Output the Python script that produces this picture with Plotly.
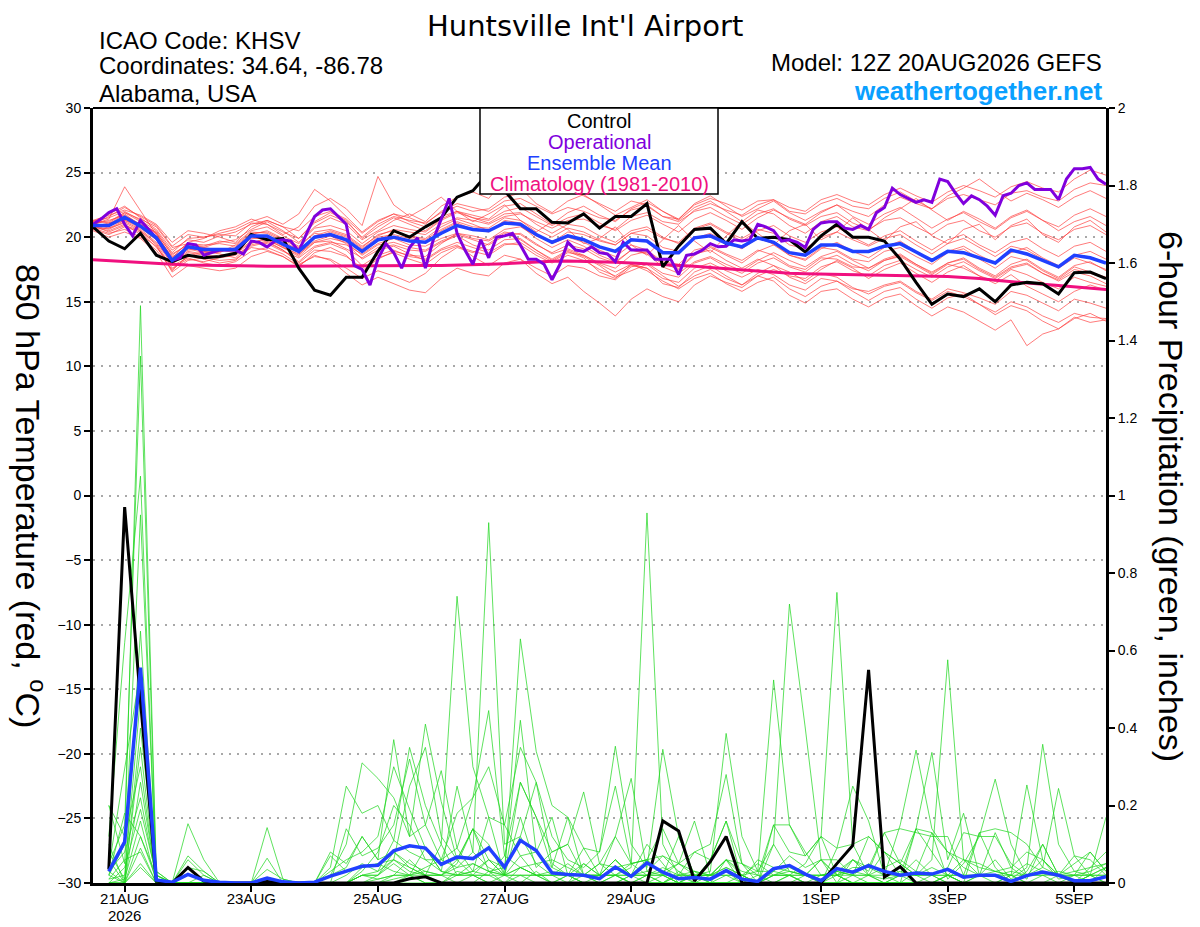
import pandas as pd
import plotly.graph_objects as go

# time axis: GEFS 12Z 20AUG2026 run, 6-hourly out to 384h (operational is 3-hourly)
times = pd.date_range("2026-08-20 12:00", periods=65, freq="6h")
times_op = pd.date_range("2026-08-20 12:00", periods=129, freq="3h")
precip_times = times[1:]

tick_dates = ["2026-08-21", "2026-08-23", "2026-08-25", "2026-08-27", "2026-08-29",
              "2026-09-01", "2026-09-03", "2026-09-05"]
tick_labels = ["21AUG", "23AUG", "25AUG", "27AUG", "29AUG", "1SEP", "3SEP", "5SEP"]

temp_ticks = [30, 25, 20, 15, 10, 5, 0, -5, -10, -15, -20, -25, -30]
precip_ticks = [0, 0.2, 0.4, 0.6, 0.8, 1, 1.2, 1.4, 1.6, 1.8, 2]
precip_tick_labels = ["0", "0.2", "0.4", "0.6", "0.8", "1", "1.2", "1.4", "1.6", "1.8", "2"]

# 850 hPa temperature (C)
control_temp = [20.8, 19.7, 19.1, 20.3, 18.6, 18.1, 18.6, 18.4, 18.5, 18.75, 20.2, 19.8, 19.9, 17.6, 15.9, 15.5,
                16.9, 16.9, 18.9, 20.5, 20.0, 20.8, 21.5, 23.1, 23.6, 25.0, 23.6, 22.2, 22.2, 21.15, 21.1, 21.8,
                20.7, 21.6, 21.6, 22.6, 17.7, 19.3, 20.6, 20.7, 19.5, 21.2, 19.9, 20.0, 19.8, 18.85, 20.1, 21.0,
                20.0, 20.0, 19.7, 18.3, 16.5, 14.8, 15.6, 15.4, 16.0, 15.0, 16.3, 16.5, 16.4, 15.6, 17.25, 17.3, 16.8]

operational_temp = [21.0, 21.4, 21.9, 22.2, 21.0, 20.1, 21.3, 20.6, 19.95, 19.0, 18.2, 18.4, 19.5, 19.4, 18.6, 18.8,
                    19.0, 19.0, 19.0, 18.7, 19.7, 19.6, 19.25, 19.7, 19.8, 19.7, 18.9, 20.3, 21.6, 22.1, 22.2, 21.6,
                    21.0, 17.8, 17.5, 16.3, 18.3, 19.5, 18.8, 17.6, 19.2, 19.95, 17.6, 19.8, 21.4, 23.0, 20.3, 19.0,
                    17.9, 19.8, 18.4, 20.0, 20.1, 20.3, 19.4, 18.3, 18.3, 17.9, 16.7, 17.9, 19.6, 19.0, 18.9, 19.25,
                    18.8, 18.7, 18.1, 19.6, 19.0, 19.0, 19.0, 18.3, 18.3, 18.3, 17.1, 18.6, 18.7, 19.0, 19.5, 19.25,
                    19.3, 19.8, 19.7, 19.8, 21.0, 20.8, 20.5, 19.7, 19.8, 19.6, 19.2, 20.6, 21.1, 21.2, 21.2, 20.7,
                    20.6, 20.9, 20.6, 21.9, 22.3, 23.8, 23.3, 23.0, 22.7, 22.9, 22.7, 24.5, 24.3, 23.4, 22.6, 23.2,
                    22.9, 22.4, 21.7, 23.2, 23.4, 24.0, 24.2, 23.7, 23.7, 23.7, 22.9, 24.5, 25.3, 25.3, 25.4, 24.5,
                    24.1]

mean_temp = [20.9, 20.9, 21.55, 20.85, 19.95, 18.2, 19.25, 19.05, 19.05, 19.05, 20.1, 20.1, 19.45, 18.9, 20.0, 20.2,
             19.8, 18.9, 19.8, 20.0, 19.7, 19.6, 20.3, 20.9, 20.6, 20.5, 21.1, 21.0, 20.2, 19.6, 20.1, 19.8,
             19.25, 18.9, 19.8, 19.7, 18.8, 18.8, 19.95, 20.1, 19.55, 19.25, 19.95, 19.6, 18.8, 18.6, 19.4, 19.4,
             18.9, 18.9, 19.3, 19.5, 18.85, 18.2, 18.9, 18.8, 18.4, 18.0, 19.0, 18.7, 18.2, 17.7, 18.6, 18.4, 18.0]

climo_temp = [18.25, 18.17, 18.1, 18.02, 17.95, 17.9, 17.85, 17.82, 17.8, 17.78, 17.76, 17.75, 17.75, 17.75, 17.75,
              17.75, 17.75, 17.76, 17.77, 17.78, 17.79, 17.8, 17.81, 17.83, 17.86, 17.9, 17.95, 18.02, 18.1, 18.13,
              18.15, 18.13, 18.1, 18.05, 18.0, 17.95, 17.9, 17.83, 17.75, 17.65, 17.55, 17.45, 17.35, 17.27, 17.2,
              17.17, 17.15, 17.12, 17.1, 17.07, 17.05, 17.02, 17.0, 16.97, 16.95, 16.87, 16.8, 16.67, 16.55, 16.45,
              16.35, 16.25, 16.15, 16.05, 15.95]

member_temps = [
    [21.2, 21.8, 22.4, 21.5, 20.6, 19.0, 19.8, 19.6, 20.1, 20.4, 21.0, 21.3, 20.8, 20.5, 21.6, 22.0, 21.4, 20.3, 21.2, 21.8, 21.5, 21.0, 22.0, 22.6, 22.3, 22.0, 22.8, 23.0, 22.4, 21.8, 22.3, 22.0, 21.5, 21.3, 22.1, 22.4, 21.6, 21.4, 22.5, 23.0, 22.6, 22.1, 22.8, 22.9, 22.0, 21.8, 22.6, 23.0, 22.4, 22.2, 23.0, 23.5, 22.8, 22.2, 23.0, 23.3, 22.9, 22.5, 23.4, 23.6, 23.1, 22.8, 23.7, 24.2, 24.0],
    [20.8, 20.5, 21.0, 20.2, 19.3, 17.4, 18.6, 18.3, 18.0, 18.2, 19.3, 19.6, 19.0, 18.1, 19.2, 19.5, 19.0, 17.8, 18.6, 19.0, 18.5, 18.3, 19.1, 19.6, 19.2, 18.8, 19.5, 19.4, 18.6, 18.0, 18.6, 18.2, 17.5, 17.0, 17.8, 17.6, 16.8, 16.5, 17.6, 18.0, 17.4, 16.9, 17.5, 17.1, 16.3, 15.9, 16.8, 16.6, 16.0, 15.8, 16.3, 16.6, 15.8, 15.2, 16.0, 15.7, 15.3, 14.8, 15.8, 15.5, 14.9, 14.3, 15.2, 14.9, 14.5],
    [21.0, 21.4, 23.9, 22.0, 20.2, 18.4, 19.6, 19.9, 20.5, 20.8, 21.4, 21.0, 20.2, 20.8, 22.4, 23.0, 22.2, 20.9, 24.7, 22.5, 21.6, 22.3, 23.1, 22.0, 21.2, 21.8, 22.5, 21.3, 20.4, 21.2, 20.6, 19.5, 19.9, 20.8, 19.4, 18.6, 19.8, 20.9, 19.7, 18.8, 20.1, 21.2, 20.3, 19.4, 20.5, 21.0, 19.8, 20.4, 21.5, 20.6, 19.7, 20.8, 21.2, 20.1, 19.5, 20.6, 21.0, 19.8, 20.9, 21.4, 20.2, 19.6, 20.8, 21.3, 20.4],
    [20.6, 20.2, 20.8, 20.4, 19.2, 17.8, 18.4, 18.0, 17.8, 18.1, 18.9, 19.2, 18.7, 17.9, 18.5, 18.3, 17.6, 16.8, 17.4, 17.0, 16.5, 17.2, 18.4, 19.2, 18.8, 19.5, 20.3, 19.8, 19.0, 18.3, 19.0, 18.5, 17.8, 16.9, 17.4, 17.9, 17.0, 16.2, 17.0, 17.5, 16.8, 16.3, 17.2, 17.8, 17.3, 16.6, 17.5, 18.2, 17.6, 16.8, 17.5, 18.0, 17.2, 16.5, 17.3, 17.8, 17.0, 16.4, 17.1, 16.2, 15.6, 15.0, 15.8, 16.3, 15.9],
    [21.3, 21.1, 21.9, 21.4, 20.8, 19.2, 19.5, 19.2, 19.6, 19.8, 20.6, 21.2, 20.5, 19.6, 20.8, 21.5, 21.0, 19.8, 20.5, 21.3, 21.8, 21.2, 22.4, 23.1, 23.5, 23.0, 24.5, 23.8, 22.6, 21.9, 22.8, 23.3, 22.5, 21.7, 22.3, 22.9, 22.0, 21.4, 22.6, 23.2, 22.4, 21.6, 22.2, 22.8, 21.9, 21.3, 22.0, 22.5, 21.6, 21.0, 21.8, 22.3, 21.5, 20.7, 21.4, 21.9, 21.2, 20.6, 21.5, 22.0, 21.3, 20.5, 21.2, 21.6, 20.9],
    [20.9, 20.6, 21.2, 20.6, 19.6, 17.9, 18.8, 18.6, 18.5, 18.7, 19.6, 19.8, 19.2, 18.5, 19.6, 19.7, 19.1, 18.4, 19.2, 19.4, 19.0, 18.9, 19.6, 20.1, 19.4, 19.0, 19.8, 19.9, 19.0, 18.2, 18.9, 18.4, 17.3, 16.8, 17.9, 17.6, 16.4, 16.1, 17.3, 17.8, 17.0, 16.3, 17.0, 16.6, 15.5, 14.9, 15.8, 16.0, 15.2, 14.6, 15.3, 15.6, 14.7, 13.9, 14.6, 14.2, 13.5, 12.8, 13.6, 11.6, 12.5, 12.9, 13.8, 13.4, 13.6],
    [21.0, 21.3, 21.7, 21.0, 20.4, 18.6, 19.5, 19.4, 19.5, 19.3, 20.3, 20.4, 19.8, 19.2, 20.4, 20.6, 20.2, 19.3, 20.1, 20.6, 20.4, 20.2, 21.0, 21.5, 21.3, 21.0, 21.6, 21.8, 21.2, 20.7, 21.3, 21.4, 20.9, 20.6, 21.6, 21.9, 21.2, 21.0, 22.1, 22.6, 22.1, 21.7, 22.5, 22.9, 22.3, 22.0, 22.9, 23.3, 22.8, 22.5, 23.3, 23.8, 23.2, 22.7, 23.5, 24.0, 23.6, 23.1, 23.9, 24.3, 23.8, 23.5, 24.5, 25.2, 24.8],
    [20.7, 20.9, 21.3, 20.7, 19.8, 18.0, 18.9, 18.7, 19.1, 18.9, 19.9, 19.9, 19.3, 18.6, 19.9, 20.4, 20.0, 19.1, 20.0, 20.2, 19.9, 19.6, 20.5, 21.1, 20.6, 20.4, 21.3, 21.1, 20.3, 19.5, 20.0, 19.6, 19.0, 18.5, 19.4, 19.0, 18.1, 17.9, 19.0, 19.3, 18.7, 18.2, 19.0, 18.6, 17.8, 17.5, 18.4, 18.3, 17.7, 17.6, 18.2, 18.5, 17.8, 17.1, 17.9, 17.6, 17.0, 16.6, 17.5, 17.1, 16.5, 16.0, 16.9, 16.5, 16.2],
    [20.5, 20.0, 20.4, 19.9, 18.8, 16.9, 17.8, 17.6, 17.4, 17.6, 18.5, 18.9, 18.5, 17.7, 18.8, 19.2, 18.6, 17.4, 18.3, 18.9, 18.6, 18.5, 19.5, 20.3, 20.1, 19.8, 20.6, 20.8, 20.1, 19.6, 20.4, 20.2, 19.7, 19.4, 20.3, 20.6, 19.9, 19.6, 20.7, 21.1, 20.4, 19.9, 20.6, 20.3, 19.4, 19.1, 20.0, 20.4, 19.8, 19.3, 19.9, 20.2, 19.4, 18.7, 19.5, 19.9, 19.2, 18.5, 19.3, 19.0, 18.3, 17.6, 18.4, 18.0, 17.5],
    [21.1, 20.8, 21.6, 21.0, 20.3, 18.3, 19.3, 19.2, 19.0, 18.8, 19.7, 19.5, 18.9, 18.4, 19.3, 19.6, 19.4, 18.7, 19.5, 19.9, 19.4, 19.3, 19.9, 20.3, 19.9, 19.7, 20.4, 20.2, 19.4, 18.8, 19.4, 19.1, 18.4, 18.0, 19.0, 18.8, 17.9, 17.6, 18.7, 19.0, 18.2, 17.6, 18.3, 17.8, 16.9, 16.4, 17.2, 16.9, 16.1, 15.6, 16.2, 16.5, 15.7, 15.1, 15.8, 15.4, 14.8, 14.2, 15.0, 14.6, 13.9, 13.4, 14.1, 13.8, 13.7],
    [20.8, 21.0, 21.8, 20.9, 20.1, 18.5, 19.1, 18.8, 18.9, 19.2, 20.2, 20.5, 19.9, 19.3, 20.3, 20.1, 19.5, 18.3, 19.0, 19.3, 18.7, 18.2, 19.0, 19.4, 18.5, 17.8, 18.6, 18.3, 17.2, 16.4, 16.9, 15.8, 14.9, 13.9, 15.2, 16.0, 15.4, 15.0, 16.3, 17.0, 16.5, 16.1, 17.0, 17.5, 17.0, 16.8, 17.7, 18.1, 17.4, 17.0, 17.8, 18.2, 17.5, 16.9, 17.7, 18.1, 17.4, 16.8, 17.6, 17.9, 17.2, 16.7, 17.5, 17.2, 16.8],
    [21.2, 21.5, 22.0, 21.3, 20.5, 18.8, 19.9, 20.0, 20.2, 20.1, 21.1, 21.0, 20.4, 19.9, 21.1, 21.7, 21.2, 20.0, 21.0, 21.6, 21.3, 21.1, 21.9, 22.4, 22.0, 22.2, 23.1, 23.4, 23.8, 24.6, 23.9, 23.2, 22.6, 22.0, 22.8, 22.5, 21.6, 21.2, 22.0, 22.3, 21.6, 21.0, 21.8, 22.2, 21.4, 20.9, 21.6, 21.9, 21.1, 20.6, 21.3, 21.5, 20.8, 20.2, 21.0, 21.3, 20.5, 20.0, 20.8, 21.1, 20.3, 19.8, 20.6, 20.9, 20.2],
    [20.9, 20.4, 20.9, 20.5, 19.5, 17.6, 18.3, 18.1, 18.4, 18.6, 19.4, 19.7, 19.0, 18.0, 19.0, 18.9, 18.5, 17.6, 18.4, 18.8, 18.3, 17.9, 18.8, 19.3, 18.9, 18.6, 19.4, 19.6, 18.8, 18.1, 18.8, 18.6, 18.0, 17.6, 18.6, 18.9, 18.0, 17.5, 18.6, 19.2, 18.6, 18.0, 18.9, 19.4, 18.6, 18.2, 19.1, 19.6, 18.9, 18.4, 19.2, 19.7, 18.9, 18.1, 18.9, 19.3, 18.6, 18.0, 18.8, 19.2, 18.4, 17.8, 18.6, 18.9, 18.3],
    [21.0, 21.6, 22.3, 21.6, 20.9, 19.3, 20.2, 20.0, 20.3, 20.6, 21.2, 21.6, 21.0, 21.8, 23.7, 22.8, 21.6, 20.4, 21.3, 21.8, 21.2, 20.8, 21.6, 22.0, 21.5, 21.1, 21.8, 21.9, 21.0, 20.3, 21.0, 20.8, 20.1, 19.6, 20.5, 20.8, 20.0, 19.5, 20.6, 21.0, 20.3, 19.7, 20.5, 20.9, 20.1, 19.6, 20.4, 20.8, 20.0, 19.4, 20.1, 20.5, 19.7, 19.0, 19.8, 20.2, 19.4, 18.8, 19.6, 19.9, 19.1, 18.5, 19.3, 19.6, 18.9],
    [20.6, 20.7, 21.1, 20.5, 19.4, 17.3, 18.2, 18.4, 18.2, 18.3, 19.2, 19.0, 18.5, 17.8, 18.6, 18.2, 17.2, 16.3, 16.9, 16.4, 15.9, 15.7, 16.8, 17.6, 17.2, 17.0, 18.0, 18.3, 17.6, 17.0, 17.8, 17.6, 17.0, 16.7, 17.7, 18.0, 17.2, 16.9, 18.0, 18.4, 17.7, 17.2, 18.0, 18.4, 17.7, 17.3, 18.2, 18.6, 17.9, 17.4, 18.2, 18.6, 17.9, 17.2, 18.0, 18.4, 17.6, 17.0, 17.9, 18.3, 17.5, 16.9, 17.8, 18.1, 17.4],
    [21.1, 21.2, 21.9, 21.2, 20.3, 18.7, 19.4, 19.3, 19.7, 19.5, 20.5, 20.8, 20.1, 19.5, 20.7, 20.9, 20.5, 19.5, 20.4, 20.9, 20.6, 20.4, 21.3, 21.9, 21.5, 21.3, 22.0, 22.3, 21.6, 20.9, 21.5, 21.8, 21.1, 20.5, 21.3, 21.7, 21.0, 20.4, 21.4, 21.9, 21.3, 20.6, 21.5, 22.1, 21.5, 21.0, 21.9, 22.5, 22.0, 21.6, 22.5, 23.1, 22.6, 22.2, 23.2, 23.8, 24.5, 23.6, 22.8, 23.4, 22.9, 22.3, 23.1, 23.6, 23.0],
    [20.7, 20.3, 20.6, 20.0, 19.0, 17.5, 18.5, 18.9, 18.7, 18.4, 19.5, 20.0, 19.6, 18.8, 19.7, 20.1, 19.7, 18.9, 19.7, 20.4, 20.1, 19.9, 20.8, 21.4, 21.0, 20.5, 21.2, 20.9, 19.9, 19.2, 19.8, 19.3, 18.6, 18.1, 19.0, 18.7, 17.7, 17.2, 18.1, 18.5, 17.9, 17.4, 18.2, 18.8, 18.2, 17.7, 18.5, 18.9, 18.2, 17.6, 18.3, 18.7, 17.9, 17.3, 18.0, 18.3, 17.5, 16.9, 17.7, 18.0, 17.2, 16.6, 17.3, 17.0, 16.4],
    [21.3, 21.7, 22.1, 21.7, 21.0, 19.6, 20.5, 20.3, 20.0, 19.6, 20.8, 21.3, 20.8, 19.9, 21.2, 21.9, 21.3, 19.9, 20.8, 21.5, 21.0, 20.5, 21.4, 22.0, 21.7, 21.4, 22.4, 22.6, 21.8, 21.0, 21.9, 22.4, 21.7, 21.2, 22.2, 22.7, 22.0, 21.3, 22.3, 22.8, 22.0, 21.2, 22.1, 21.8, 20.9, 20.3, 21.2, 21.6, 20.8, 20.5, 21.5, 22.2, 23.0, 22.1, 21.3, 22.0, 21.4, 20.7, 21.6, 22.1, 21.3, 20.8, 21.7, 22.2, 21.6],
    [20.8, 21.1, 21.4, 20.8, 19.9, 18.2, 19.0, 19.1, 18.9, 19.1, 20.0, 19.8, 19.2, 18.7, 19.6, 19.9, 19.6, 18.6, 19.4, 19.6, 19.2, 19.0, 19.7, 20.2, 19.8, 19.4, 20.1, 20.3, 19.5, 18.7, 19.1, 18.6, 17.9, 17.3, 17.9, 17.4, 16.6, 16.0, 16.8, 17.2, 16.4, 15.8, 16.5, 16.9, 16.0, 15.4, 16.2, 16.6, 15.8, 15.1, 15.8, 16.1, 15.2, 14.5, 15.3, 15.6, 14.8, 14.0, 14.7, 14.3, 13.5, 12.9, 13.7, 14.1, 13.5],
    [21.0, 20.7, 21.3, 20.9, 19.9, 18.1, 19.2, 18.9, 18.8, 19.4, 20.4, 20.3, 19.7, 19.0, 20.1, 20.5, 20.1, 19.2, 20.2, 20.5, 20.0, 19.8, 20.6, 21.2, 20.8, 20.7, 21.5, 21.3, 20.6, 20.0, 20.7, 20.4, 19.8, 19.4, 20.3, 20.1, 19.2, 18.9, 19.9, 20.3, 19.6, 19.1, 19.9, 19.5, 18.6, 18.3, 19.2, 19.0, 18.3, 18.1, 18.9, 19.2, 18.5, 17.9, 18.8, 19.1, 18.3, 17.6, 18.5, 18.2, 17.4, 16.8, 17.7, 17.3, 16.9],
]

# 6-hour precipitation (inches), valid 20AUG18Z onward
control_precip = [.035, .97, .47, .005, 0, .04, .005, 0, 0, 0, .004, 0, 0, 0, 0, 0,
                  0, 0, 0, .011, .016, 0, 0, 0, 0, 0, 0, 0, 0, 0, 0, 0,
                  0, 0, 0, .16, .134, .005, .055, .12, 0, 0, 0, 0, 0, 0, .05, .097,
                  .55, .015, .042, 0, 0, 0, 0, 0, 0, 0, 0, 0, 0, 0, 0, 0]

mean_precip = [.03, .106, .556, .008, .002, .022, .007, .002, 0, 0, .013, .003, 0, .002, .018, .03,
               .043, .046, .083, .096, .09, .048, .067, .063, .091, .041, .11, .084, .026, .022, .02, .011,
               .041, .017, .052, .028, .011, .014, .01, .032, .01, .004, .037, .045, .023, .006, .037, .028,
               .045, .03, .02, .026, .023, .035, .015, .02, .02, .004, .019, .028, .02, .006, .006, .016]

member_precips = [
    [.02, .10, 1.49, .03, 0, 0, .02, 0, 0, 0, 0, 0, 0, 0, .03, .06, .08, .12, .30, .19, .09, .03, .25, .08, .93, .10, .12, .05, .02, 0, .05, .02, .06, .02, .10, .05, 0, .03, 0, .06, .02, 0, .10, .72, .40, .06, 0, .06, .04, .02, 0, .14, .08, .02, 0, .13, .04, 0, .03, .10, .02, 0, .04, .05],
    [.05, .15, 1.36, .02, 0, .153, .06, 0, 0, 0, .035, .01, 0, 0, .02, .10, .31, .27, .22, .12, .41, .21, .06, .14, .06, .04, .42, .08, .04, .02, .09, .02, .12, .27, .03, .07, .05, .16, .02, .06, .05, 0, .15, .08, .07, .12, .75, .10, .02, .04, .06, .03, .13, .01, .05, .12, .268, .10, .02, .06, .01, .02, .08, .03],
    [.12, .62, 1.05, .01, 0, .07, .03, 0, 0, 0, .143, .01, 0, 0, .08, .05, .12, .06, .37, .12, .15, .29, .09, .22, .445, .07, .26, .17, .08, .10, .235, .05, .02, .04, .955, .10, .02, .08, .06, .16, .01, .06, .04, .03, .02, 0, .09, .25, .16, .02, .15, .343, .14, .08, .04, .02, .13, .04, .01, .10, .02, 0, .02, .17],
    [.20, .05, .95, .02, 0, .06, .02, 0, 0, 0, .064, 0, 0, 0, .04, .25, .18, .20, .11, .35, .20, .10, .74, .30, .17, .02, .63, .34, .20, .17, .09, .08, .353, .10, .04, .345, .12, .02, .03, .386, .12, .03, .524, .15, .08, .02, .02, .06, .03, .13, .05, .02, .06, .576, .06, .05, .03, .02, .253, .06, .02, .05, .08, .03],
    [.04, .30, .55, 0, 0, .04, 0, 0, 0, 0, .01, 0, 0, 0, 0, .14, .07, .09, .15, .32, .15, .06, .18, .22, .30, .15, .35, .26, .12, .06, .04, .08, .25, .05, .06, .14, .05, .08, .10, .28, .05, .02, .15, .15, .07, .12, .09, .10, .12, .08, .02, .14, .337, .06, .18, .02, .06, .01, .04, .358, .10, .03, .04, .08],
    [.01, .02, .48, .01, 0, 0, 0, 0, 0, 0, 0, 0, 0, 0, .07, .03, .04, .05, .06, .25, .35, .12, .06, .14, .10, .02, .26, .17, .04, .17, .02, .05, .12, .05, .06, .07, .03, .01, .06, .16, .05, .03, .10, .03, .02, .06, .02, .03, .02, .01, .02, .06, .02, .04, .13, .12, .12, .05, .02, .04, .244, .07, .02, .02],
    [.06, 0, .40, .03, 0, 0, 0, 0, 0, 0, 0, 0, 0, 0, 0, .02, .05, .03, .11, .08, .06, .06, .04, .05, .03, .04, .12, .26, .05, .02, .05, .02, .06, .02, .03, .02, .05, .03, .02, .06, .03, .02, .02, .04, .02, .06, .06, .02, .12, .08, .05, .14, .13, .08, .06, .04, .03, .04, .08, .06, .02, .07, .06, .02],
    [.20, .12, .30, 0, 0, 0, 0, 0, 0, 0, 0, 0, 0, 0, 0, 0, .02, .02, .08, .04, .02, .10, .02, .03, .17, .15, .07, .08, .17, .02, .02, .02, .02, .05, .06, .02, .02, .03, .02, .02, .02, 0, .03, .07, .04, .06, .02, .04, .04, .13, .14, .13, .12, .12, .02, .13, .14, .13, .10, .04, .02, .02, .03, .05],
    [.03, .08, .22, .01, 0, 0, 0, 0, 0, 0, 0, 0, 0, 0, 0, 0, 0, .01, .02, .06, .02, 0, .02, .05, .03, 0, .04, .02, 0, .02, 0, 0, .02, 0, .02, 0, .03, 0, .02, .06, 0, 0, .02, .02, 0, 0, .03, .02, 0, 0, .02, 0, 0, .02, 0, 0, 0, .02, 0, .02, 0, 0, 0, 0],
    [0, .04, .19, .02, 0, 0, 0, 0, 0, 0, 0, 0, 0, 0, 0, 0, .04, .05, .03, .02, .04, .06, .09, .03, .06, .02, .02, .02, .02, .05, .02, .05, .04, .05, .02, .03, .05, .02, .02, .02, .02, .05, .02, .02, .05, .12, .02, .02, .05, .02, .03, .02, 0, .02, .06, .02, .03, .02, .05, .03, .02, .03, .02, .04],
    [.08, .01, .16, 0, 0, 0, 0, 0, 0, 0, 0, 0, 0, 0, 0, 0, .02, .01, .02, .02, .09, .03, .02, .02, .02, .02, .04, .02, .02, .02, .02, .02, .02, .02, .02, .02, 0, .02, 0, .02, 0, 0, .02, .02, .02, .02, .02, 0, 0, 0, .02, .02, .02, 0, 0, .02, 0, 0, 0, 0, 0, 0, 0, .04],
    [.02, .18, .12, .01, 0, 0, 0, 0, 0, 0, 0, 0, 0, 0, 0, 0, 0, 0, 0, .02, .02, .02, 0, 0, .03, .02, .02, 0, 0, 0, 0, 0, 0, 0, 0, 0, 0, 0, 0, 0, 0, 0, 0, 0, 0, 0, 0, 0, 0, 0, 0, 0, 0, 0, 0, 0, 0, 0, 0, 0, 0, 0, 0, 0],
    [.01, .06, .08, 0, 0, 0, 0, 0, 0, 0, 0, 0, 0, 0, 0, 0, 0, 0, .01, .02, .03, .02, .06, .02, .06, .02, .07, .02, .02, .02, .02, 0, 0, .02, .02, .02, 0, .02, 0, 0, .02, 0, 0, 0, .02, 0, 0, .02, .02, 0, 0, .03, .02, .02, 0, 0, 0, 0, 0, 0, .02, 0, .02, 0],
    [.10, 0, .04, 0, 0, 0, 0, 0, 0, 0, 0, 0, 0, 0, 0, 0, 0, 0, 0, 0, 0, 0, 0, 0, 0, 0, 0, 0, 0, 0, 0, 0, 0, 0, 0, 0, 0, 0, 0, 0, 0, 0, 0, 0, 0, 0, 0, 0, 0, 0, 0, 0, 0, 0, 0, 0, 0, 0, 0, 0, 0, 0, 0, 0],
    [0, 0, .65, 0, 0, .04, .03, 0, 0, 0, 0, 0, 0, 0, 0, 0, .02, .03, .06, .04, .02, .02, .04, .08, .04, .02, .04, .05, .06, .04, .02, .02, .02, .02, .02, .04, .02, .02, .02, .04, .02, .03, .03, .02, .02, .02, .03, .02, .02, .02, .02, .02, .02, .02, .02, .02, .02, .03, .02, .02, .02, .02, .02, .04],
    [.03, 0, .26, .01, 0, 0, 0, 0, 0, 0, 0, 0, 0, 0, .02, .04, .12, .06, .08, .05, .03, .02, .05, .14, .03, .02, .17, .04, .08, .10, .02, .02, .06, .02, .06, .02, .12, .02, .02, .04, .02, 0, .02, .03, .02, .02, .03, .06, .02, .08, .05, .02, .04, .02, .02, .02, .02, .02, .02, .02, .03, .02, .02, .02],
    [0, 0, .09, 0, 0, 0, 0, 0, 0, 0, 0, 0, 0, 0, 0, 0, .03, .08, .20, .15, .06, .03, .02, .03, .02, .07, .04, .02, .03, .02, 0, .02, .02, 0, .02, 0, .02, .02, .02, .03, 0, .02, 0, 0, 0, .02, .02, 0, .02, 0, 0, 0, 0, 0, 0, .02, .02, 0, 0, 0, 0, 0, 0, 0],
    [0, .01, .35, 0, 0, 0, 0, 0, 0, 0, 0, 0, 0, 0, 0, 0, .02, .02, .06, .03, .02, .02, .02, .02, .02, 0, .02, .02, 0, .02, 0, 0, .02, 0, 0, .02, 0, 0, 0, 0, 0, 0, 0, .02, 0, 0, 0, 0, 0, 0, 0, 0, 0, .02, 0, 0, 0, 0, 0, 0, 0, 0, .02, 0],
    [.02, 0, .12, .02, 0, 0, 0, 0, 0, 0, 0, 0, 0, 0, 0, 0, 0, .02, .05, .02, 0, 0, .03, .02, 0, .02, 0, .03, 0, 0, .02, 0, 0, .02, 0, 0, .02, 0, 0, 0, 0, 0, 0, .02, 0, 0, .02, 0, 0, 0, 0, 0, .02, 0, 0, 0, 0, .02, 0, 0, 0, .02, 0, 0],
    [0, 0, .05, 0, 0, 0, 0, 0, 0, 0, 0, 0, 0, 0, 0, 0, 0, 0, .02, .02, 0, 0, 0, .02, 0, 0, 0, 0, 0, 0, 0, 0, 0, 0, 0, 0, 0, 0, 0, 0, 0, 0, 0, 0, 0, 0, 0, 0, 0, 0, 0, 0, 0, 0, 0, 0, 0, 0, 0, 0, 0, 0, 0, 0],
]

for k, m in enumerate(member_temps):
    assert len(m) == len(times), ("temp member", k, len(m))
for k, m in enumerate(member_precips):
    assert len(m) == len(precip_times), ("precip member", k, len(m))


# page pixel -> paper coords (plot frame spans x 93..1106, y 108..883 on the page)
def px(X):
    return (X - 93) / 1013.0


def py(Y):
    return (883 - Y) / 775.0


fig = go.Figure()

for m in member_temps:
    fig.add_trace(go.Scatter(x=times, y=m, mode="lines", line=dict(color="rgba(255,60,60,0.85)", width=0.8),
                             hoverinfo="skip", showlegend=False))

fig.add_trace(go.Scatter(x=times, y=climo_temp, mode="lines", line=dict(color="#f0107f", width=3),
                         name="Climatology (1981-2010)", showlegend=False))
fig.add_trace(go.Scatter(x=times, y=control_temp, mode="lines", line=dict(color="black", width=3),
                         name="Control", showlegend=False))
fig.add_trace(go.Scatter(x=times_op, y=operational_temp, mode="lines", line=dict(color="#8000dd", width=3),
                         name="Operational", showlegend=False))
fig.add_trace(go.Scatter(x=times, y=mean_temp, mode="lines", line=dict(color="#2040ff", width=3.5),
                         name="Ensemble Mean", showlegend=False))

for m in member_precips:
    fig.add_trace(go.Scatter(x=precip_times, y=m, mode="lines", yaxis="y2",
                             line=dict(color="rgba(30,215,30,0.9)", width=0.8),
                             hoverinfo="skip", showlegend=False))

fig.add_trace(go.Scatter(x=precip_times, y=control_precip, mode="lines", yaxis="y2",
                         line=dict(color="black", width=3), showlegend=False))
fig.add_trace(go.Scatter(x=precip_times, y=mean_precip, mode="lines", yaxis="y2",
                         line=dict(color="#2040ff", width=3.5), showlegend=False))

# the page body sits 8px in from the window corner; margins are fixed (no autoexpand)
fig.update_layout(
    width=1192, height=919,
    margin=dict(l=85, r=94, t=100, b=44, autoexpand=False),
    paper_bgcolor="white", plot_bgcolor="white",
    font=dict(family="Liberation Sans, Arial, sans-serif", color="black"),
    xaxis=dict(type="date", range=[times[0], times[-1]], tickvals=tick_dates, ticktext=tick_labels,
               ticks="outside", ticklen=6, tickwidth=2, tickcolor="black", tickfont=dict(size=15),
               ticklabelstandoff=-6,
               showline=True, linewidth=3, linecolor="black", showgrid=False, zeroline=False),
    yaxis=dict(range=[-30, 30], tickvals=temp_ticks, ticks="outside", ticklen=6, tickwidth=2,
               tickcolor="black", tickfont=dict(size=14), showline=True, linewidth=3, linecolor="black",
               showgrid=True, gridcolor="#a8a8a8", griddash="2px,6px", gridwidth=1.5, zeroline=False),
    yaxis2=dict(range=[0, 2], overlaying="y", side="right", tickvals=precip_ticks, ticktext=precip_tick_labels,
                ticks="outside", ticklen=6, tickwidth=2, tickcolor="black", tickfont=dict(size=14),
                showline=True, linewidth=3, linecolor="black", showgrid=False, zeroline=False),
)

# year under the first date label
fig.add_annotation(x=tick_dates[0], xref="x", y=py(915), yref="paper", text="2026", showarrow=False,
                   xanchor="center", yanchor="middle", font=dict(size=15))

# top frame line and legend box
fig.add_shape(type="line", xref="paper", yref="paper", x0=0, x1=1, y0=1, y1=1,
              line=dict(color="black", width=2))
fig.add_shape(type="rect", xref="paper", yref="paper", x0=px(480), x1=px(718), y0=py(194), y1=1,
              fillcolor="white", line=dict(color="black", width=1.5), layer="above")

legend_items = [("Control", "black", 121), ("Operational", "#8000dd", 142),
                ("Ensemble Mean", "#2040ff", 163), ("Climatology (1981-2010)", "#f0107f", 184)]
for txt, col, Y in legend_items:
    fig.add_annotation(x=px(599), y=py(Y), xref="paper", yref="paper", text=txt, showarrow=False,
                       xanchor="center", yanchor="middle", font=dict(size=20, color=col))

header = [
    ("ICAO Code: KHSV", 97, 40, "left", 24, "black"),
    ("Coordinates: 34.64, -86.78", 97, 66, "left", 24, "black"),
    ("Alabama, USA", 97, 93, "left", 24, "black"),
    ("Model: 12Z 20AUG2026 GEFS", 1104, 63, "right", 24, "black"),
    ("<b>weathertogether.net</b>", 1104, 91, "right", 26, "#0aa0ff"),
]
for txt, X, Y, anchor, size, col in header:
    fig.add_annotation(x=px(X), y=py(Y), xref="paper", yref="paper", text=txt, showarrow=False,
                       xanchor=anchor, yanchor="middle", font=dict(size=size, color=col))

fig.add_annotation(x=px(585), y=py(26), xref="paper", yref="paper", text="Huntsville Int'l Airport",
                   showarrow=False, xanchor="center", yanchor="middle",
                   font=dict(size=29, family="DejaVu Sans"))

fig.add_annotation(x=px(31), y=py(496), xref="paper", yref="paper", textangle=90, showarrow=False,
                   text="850 hPa Temperature (red, <sup>o</sup>C)", font=dict(size=34),
                   xanchor="center", yanchor="middle")
fig.add_annotation(x=px(1171), y=py(496), xref="paper", yref="paper", textangle=90, showarrow=False,
                   text="6-hour Precipitation (green, inches)", font=dict(size=34),
                   xanchor="center", yanchor="middle")

fig.write_html("out.html")
